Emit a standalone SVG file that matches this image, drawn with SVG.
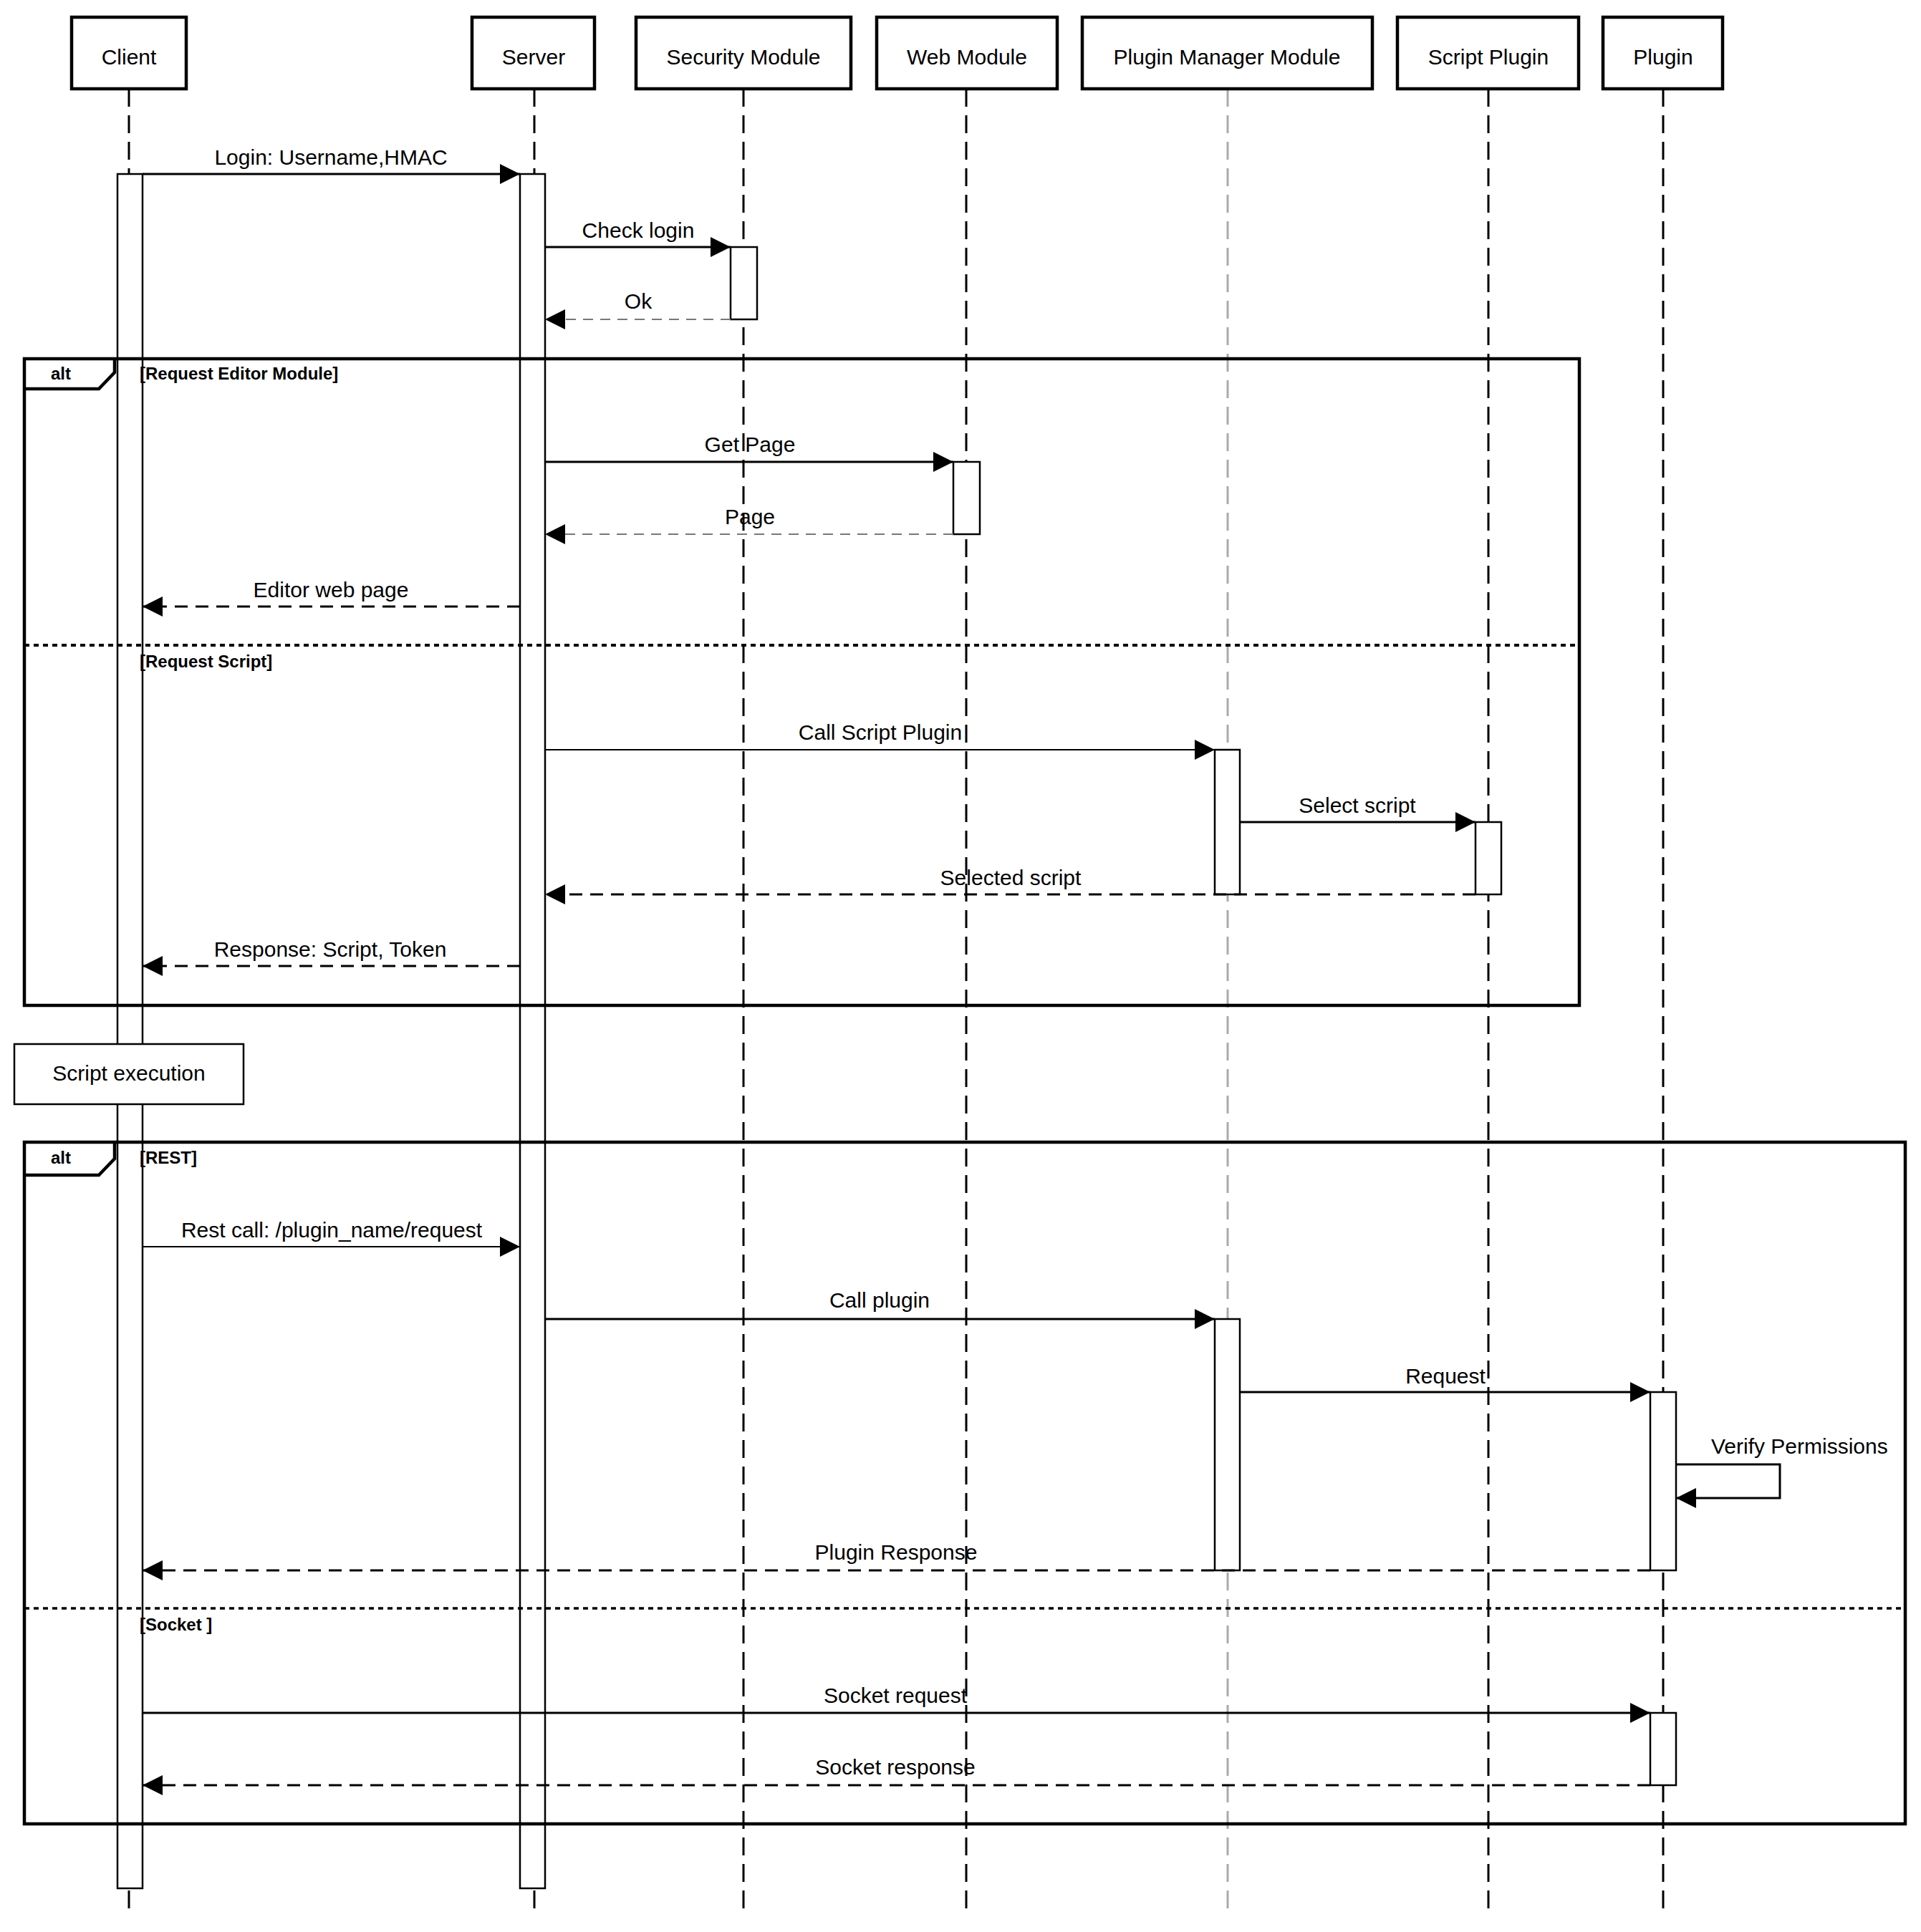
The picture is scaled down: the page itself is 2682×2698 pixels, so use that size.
<svg xmlns="http://www.w3.org/2000/svg" width="2682" height="2698" viewBox="0 0 2682 2698">
<defs>
<style>
text{font-family:"Liberation Sans",Arial,Helvetica,sans-serif;fill:#000}
.lbl{font-size:30px;text-anchor:middle}
.hdr{fill:#fff;stroke:#000;stroke-width:4.5}
.life{stroke:#000;stroke-width:3;stroke-dasharray:25 12;fill:none}
.lifeg{stroke:#aaa;stroke-width:3;stroke-dasharray:25 12;fill:none}
.bar{fill:#fff;stroke:#000;stroke-width:2.5}
.frame{fill:none;stroke:#000;stroke-width:4.5}
.sep{stroke:#000;stroke-width:4;stroke-dasharray:7 6;fill:none}
.msg{stroke:#000;stroke-width:3;fill:none;marker-end:url(#ah)}
.msgt{stroke:#000;stroke-width:2;fill:none;marker-end:url(#ah)}
.ret{stroke:#000;stroke-width:3;stroke-dasharray:18 11;fill:none;marker-end:url(#ah)}
.retg{stroke:#777;stroke-width:2;stroke-dasharray:14 10;fill:none;marker-end:url(#ah)}
.tag{font-size:24px;font-weight:bold}
</style>
<marker id="ah" markerUnits="userSpaceOnUse" markerWidth="28" markerHeight="28" refX="28" refY="14" orient="auto" viewBox="0 0 28 28">
<path d="M0,0 L28,14 L0,28 z" fill="#000"/>
</marker>
</defs>
<rect width="2682" height="2698" fill="#fff"/>

<g id="lifelines">
<line class="life" x1="180" y1="124" x2="180" y2="2665"/>
<line class="life" x1="746" y1="124" x2="746" y2="2665"/>
<line class="life" x1="1038" y1="124" x2="1038" y2="2665"/>
<line class="life" x1="1349" y1="124" x2="1349" y2="2665"/>
<line class="lifeg" x1="1714" y1="124" x2="1714" y2="2665"/>
<line class="life" x1="2078" y1="124" x2="2078" y2="2665"/>
<line class="life" x1="2322" y1="124" x2="2322" y2="2665"/>
</g>

<g id="participants">
<g id="p-client"><rect class="hdr" x="100" y="24" width="160" height="100"/><text class="lbl" x="180" y="90">Client</text></g>
<g id="p-server"><rect class="hdr" x="659" y="24" width="171" height="100"/><text class="lbl" x="745" y="90">Server</text></g>
<g id="p-security"><rect class="hdr" x="888" y="24" width="300" height="100"/><text class="lbl" x="1038" y="90">Security Module</text></g>
<g id="p-web"><rect class="hdr" x="1224" y="24" width="252" height="100"/><text class="lbl" x="1350" y="90">Web Module</text></g>
<g id="p-pmm"><rect class="hdr" x="1511" y="24" width="405" height="100"/><text class="lbl" x="1713" y="90">Plugin Manager Module</text></g>
<g id="p-script"><rect class="hdr" x="1951" y="24" width="253" height="100"/><text class="lbl" x="2078" y="90">Script Plugin</text></g>
<g id="p-plugin"><rect class="hdr" x="2238" y="24" width="167" height="100"/><text class="lbl" x="2322" y="90">Plugin</text></g>
</g>

<g id="activations">
<rect class="bar" x="164" y="243" width="35" height="2394"/>
<rect class="bar" x="726" y="243" width="35" height="2394"/>
<rect class="bar" x="1020" y="345" width="37" height="101"/>
<rect class="bar" x="1331" y="645" width="37" height="101"/>
<rect class="bar" x="1696" y="1047" width="35" height="202"/>
<rect class="bar" x="2060" y="1148" width="36" height="101"/>
<rect class="bar" x="1696" y="1842" width="35" height="351"/>
<rect class="bar" x="2304" y="1944" width="36" height="249"/>
<rect class="bar" x="2304" y="2392" width="36" height="101"/>
</g>

<g id="frame-alt1">
<rect class="frame" x="34" y="501" width="2171" height="903"/>
<path class="frame" d="M34,543 L138,543 L160,520 L160,501"/>
<text class="tag" x="71" y="530">alt</text>
<text class="tag" x="195" y="530">[Request Editor Module]</text>
<line class="sep" x1="34" y1="901" x2="2205" y2="901"/>
<text class="tag" x="195" y="932">[Request Script]</text>
</g>

<g id="frame-alt2">
<rect class="frame" x="34" y="1595" width="2626" height="952"/>
<path class="frame" d="M34,1641 L138,1641 L160,1618 L160,1595"/>
<text class="tag" x="71" y="1625">alt</text>
<text class="tag" x="195" y="1625">[REST]</text>
<line class="sep" x1="34" y1="2246" x2="2660" y2="2246" style="stroke-width:3.5"/>
<text class="tag" x="195" y="2277">[Socket ]</text>
</g>

<g id="connectors">
<line class="msg" x1="199" y1="243" x2="726" y2="243"/>
<line class="msg" x1="761" y1="345" x2="1020" y2="345"/>
<line class="retg" x1="1020" y1="446" x2="761" y2="446"/>
<line class="msg" x1="761" y1="645" x2="1331" y2="645"/>
<line class="retg" x1="1331" y1="746" x2="761" y2="746"/>
<line class="ret" x1="726" y1="847" x2="199" y2="847"/>
<line class="msgt" x1="761" y1="1047" x2="1696" y2="1047"/>
<line class="msg" x1="1731" y1="1148" x2="2060" y2="1148"/>
<line class="ret" x1="2060" y1="1249" x2="761" y2="1249"/>
<line class="ret" x1="726" y1="1349" x2="199" y2="1349"/>
<line class="msgt" x1="199" y1="1741" x2="726" y2="1741"/>
<line class="msg" x1="761" y1="1842" x2="1696" y2="1842"/>
<line class="msg" x1="1731" y1="1944" x2="2304" y2="1944"/>
<path class="msg" d="M2340,2045 L2485,2045 L2485,2092 L2340,2092"/>
<line class="ret" x1="2304" y1="2193" x2="199" y2="2193"/>
<line class="msg" x1="199" y1="2392" x2="2304" y2="2392"/>
<line class="ret" x1="2304" y1="2493" x2="199" y2="2493"/>
</g>

<g id="labels">
<text class="lbl" x="462" y="230">Login: Username,HMAC</text>
<text class="lbl" x="891" y="332">Check login</text>
<text class="lbl" x="891" y="431">Ok</text>
<text class="lbl" x="1047" y="631">Get Page</text>
<text class="lbl" x="1047" y="732">Page</text>
<text class="lbl" x="462" y="834">Editor web page</text>
<text class="lbl" x="1229" y="1033">Call Script Plugin</text>
<text class="lbl" x="1895" y="1135">Select script</text>
<text class="lbl" x="1411" y="1236">Selected script</text>
<text class="lbl" x="461" y="1336">Response: Script, Token</text>
<text class="lbl" x="463" y="1728">Rest call: /plugin_name/request</text>
<text class="lbl" x="1228" y="1826">Call plugin</text>
<text class="lbl" x="2018" y="1932">Request</text>
<text x="2389" y="2030" style="font-size:30px">Verify Permissions</text>
<text class="lbl" x="1251" y="2178">Plugin Response</text>
<text class="lbl" x="1250" y="2378">Socket request</text>
<text class="lbl" x="1250" y="2478">Socket response</text>
</g>

<g id="n-script-execution">
<rect x="20" y="1458" width="320" height="84" fill="#fff" stroke="#000" stroke-width="2.5"/>
<text class="lbl" x="180" y="1509">Script execution</text>
</g>
</svg>
